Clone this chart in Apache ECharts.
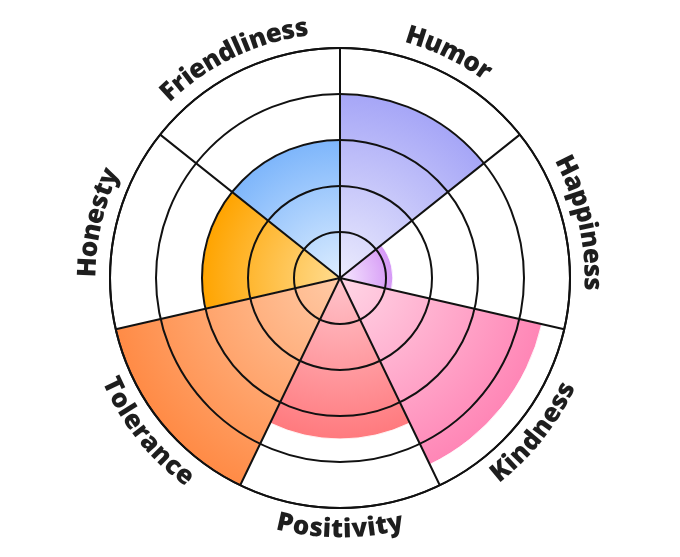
<!DOCTYPE html>
<html>
<head>
<meta charset="utf-8">
<script src="https://cdn.jsdelivr.net/npm/echarts@6/dist/echarts.min.js"></script>
<style>
  html, body { margin: 0; padding: 0; background: #fff; }
  #chart { width: 680px; height: 557px; }
</style>
</head>
<body>
<div id="chart"></div>
<script>
// 数据
var categories = ['Humor', 'Happiness', 'Kindness', 'Positivity', 'Tolerance', 'Honesty', 'Friendliness'];
var values = [4, 1.15, 4.5, 3.5, 5, 3, 3];
var innerColors = ['#ebebfd', '#f6e8fe', '#ffd6e6', '#ffc4cc', '#ffcaa6', '#ffdc90', '#dcedff'];
var outerColors = ['#a6a6f7', '#d598f6', '#ff86b6', '#ff7a7e', '#ff8b46', '#ffa400', '#7eb6fb'];

var cx = 340, cy = 278, R = 230, maxVal = 5;
var labelFont = '800 26px "Open Sans"';

var chart = echarts.init(document.getElementById('chart'));

// 测量字符宽度
var ctx = document.createElement('canvas').getContext('2d');
ctx.font = labelFont;
function charW(ch) { return ctx.measureText(ch).width; }

var barData = values.map(function (v, i) {
    return {
        value: v,
        itemStyle: {
            color: {
                type: 'radial', x: cx, y: cy, r: v / maxVal * R, global: true,
                colorStops: [
                    { offset: 0, color: innerColors[i] },
                    { offset: 1, color: outerColors[i] }
                ]
            }
        }
    };
});

var option = {
    backgroundColor: '#fff',
    polar: { center: [cx, cy], radius: R },
    angleAxis: {
        type: 'category',
        data: categories,
        startAngle: 90,
        clockwise: true,
        z: 10,
        axisLine: { lineStyle: { color: '#111', width: 2 } },
        axisTick: { show: false },
        axisLabel: { show: false },
        splitLine: { show: true, lineStyle: { color: '#111', width: 2 } }
    },
    radiusAxis: {
        min: 0,
        max: maxVal,
        interval: 1,
        z: 10,
        axisLine: { show: false },
        axisTick: { show: false },
        axisLabel: { show: false },
        splitLine: { show: true, lineStyle: { color: '#111', width: 2 } }
    },
    series: [{
        type: 'bar',
        coordinateSystem: 'polar',
        data: barData,
        barCategoryGap: '0%',
        itemStyle: { borderColor: 'rgba(255,255,255,0.6)', borderWidth: 1 }
    }, {
        // 类别标签，沿圆弧排列  (polar 维度顺序: radius, angle)
        type: 'custom',
        coordinateSystem: 'polar',
        data: categories.map(function (c, i) { return [maxVal, i]; }),
        z: 20,
        renderItem: function (params, api) {
            var p = api.coord([api.value(0), api.value(1)]);
            var dx = p[0] - cx, dy = p[1] - cy;
            var r = Math.sqrt(dx * dx + dy * dy) + 22;
            var thc = Math.atan2(-dy, dx);
            var bottom = dy > 1;
            var text = categories[params.dataIndex];
            var ws = text.split('').map(charW);
            var total = ws.reduce(function (a, b) { return a + b; }, 0);
            var acc = 0;
            var children = text.split('').map(function (ch, k) {
                var s = (acc + ws[k] / 2 - total / 2) / r;
                acc += ws[k];
                var th = bottom ? thc + s : thc - s;
                return {
                    type: 'text',
                    x: cx + r * Math.cos(th),
                    y: cy - r * Math.sin(th),
                    rotation: bottom ? th + Math.PI / 2 : th - Math.PI / 2,
                    style: {
                        text: ch,
                        font: labelFont,
                        fill: '#1e1e1e',
                        align: 'center',
                        verticalAlign: 'middle'
                    }
                };
            });
            return { type: 'group', children: children };
        }
    }]
};
chart.setOption(option);
</script>
</body>
</html>
